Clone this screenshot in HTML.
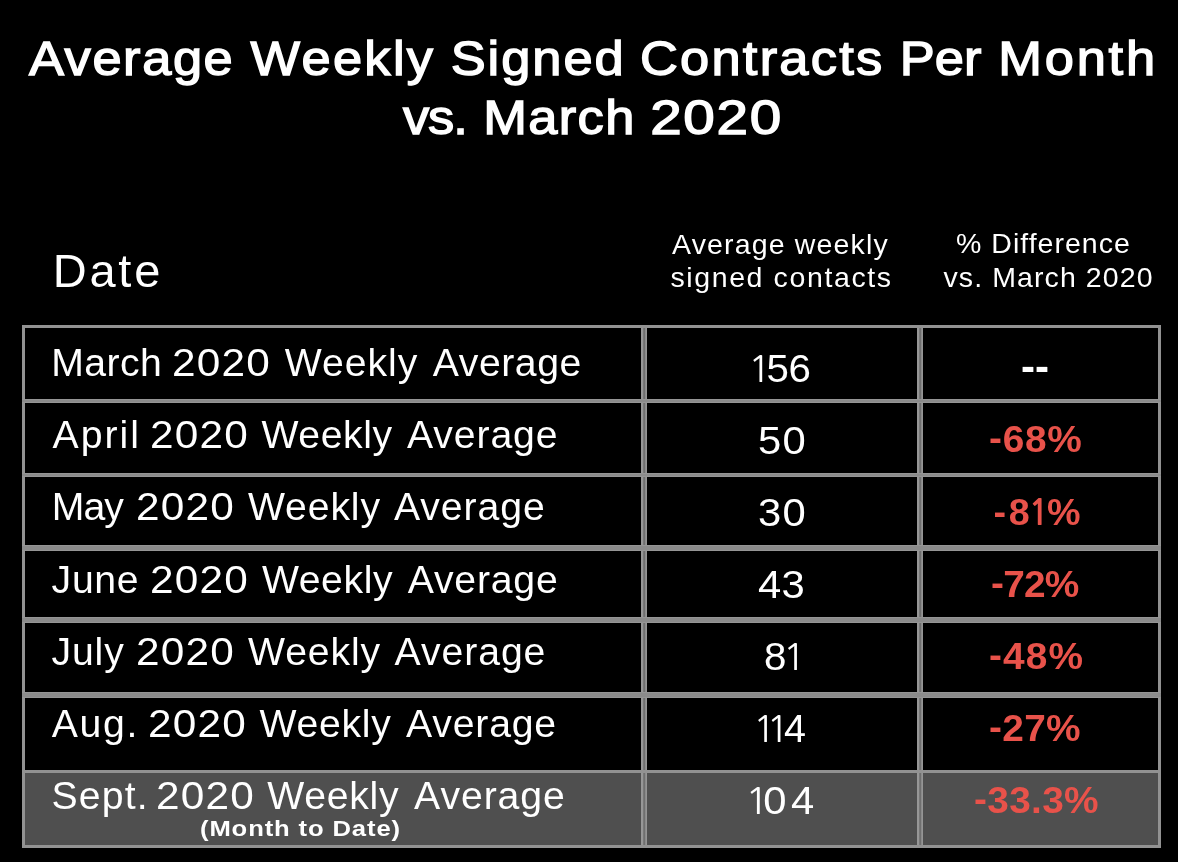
<!DOCTYPE html>
<html><head><meta charset="utf-8"><title>Average Weekly Signed Contracts Per Month vs. March 2020</title>
<style>
html,body{margin:0;padding:0;background:#000;}
body{width:1178px;height:862px;overflow:hidden;position:relative;font-family:"Liberation Sans",Arial,sans-serif;}
.t{position:absolute;white-space:nowrap;line-height:1;margin:0;}
.g{position:absolute;background:#929292;}
.h{position:absolute;background:linear-gradient(to bottom,#959595 0,#959595 1px,#8b8b8b 1px,#8b8b8b calc(100% - 1px),#959595 calc(100% - 1px));}
.v{position:absolute;background:linear-gradient(to right,#979797 0,#979797 2px,#787878 2px,#787878 3px,#6f6f6f 3px,#6f6f6f 4px,#8a8a8a 4px,#8a8a8a 5px,#959595 5px);}
</style></head><body>
<div style="position:absolute;left:25px;top:773px;width:1133px;height:72px;background:#4f4f4f"></div>
<div class="g" style="left:22px;top:325px;width:3px;height:523px"></div>
<div class="g" style="left:1158px;top:325px;width:3px;height:523px"></div>
<div class="v" style="left:641px;top:325px;width:6px;height:523px"></div>
<div class="v" style="left:917px;top:325px;width:6px;height:523px"></div>
<div class="g" style="left:22px;top:325px;width:1139px;height:3px"></div>
<div class="h" style="left:22px;top:399px;width:1139px;height:4px"></div>
<div class="h" style="left:22px;top:473px;width:1139px;height:4px"></div>
<div class="h" style="left:22px;top:545px;width:1139px;height:6px"></div>
<div class="h" style="left:22px;top:617px;width:1139px;height:6px"></div>
<div class="h" style="left:22px;top:692px;width:1139px;height:6px"></div>
<div class="g" style="left:22px;top:770px;width:1139px;height:3px"></div>
<div class="g" style="left:22px;top:845px;width:1139px;height:3px"></div>
<div class="t" id="t1" style="left:29.00px;top:34.01px;font-size:49px;font-weight:400;color:#fff;transform:scaleX(1.07);transform-origin:0 0;-webkit-text-stroke:1.4px #fff"><span id="t1_0" style="letter-spacing:1.47px">Average</span> <span id="t1_1" style="letter-spacing:2.15px;margin-left:1.57px">Weekly</span> <span id="t1_2" style="letter-spacing:1.82px;margin-left:0.71px">Signed</span> <span id="t1_3" style="letter-spacing:2.09px;margin-left:-0.26px">Contracts</span> <span id="t1_4" style="letter-spacing:0.00px;margin-left:0.75px">Per</span> <span id="t1_5" style="letter-spacing:2.58px;margin-left:2.17px">Month</span></div>
<div class="t" id="t2" style="left:403.10px;top:92.91px;font-size:49px;font-weight:400;color:#fff;transform:scaleX(1.07);transform-origin:0 0;-webkit-text-stroke:1.4px #fff"><span id="t2_0" style="letter-spacing:-1.05px">vs.</span> <span id="t2_1" style="letter-spacing:1.27px;margin-left:1.87px">March</span> <span id="t2_2" style="letter-spacing:1.48px;display:inline-block;transform:scaleX(1.080);transform-origin:0 0;margin-left:0.19px">2020</span></div>
<div class="t" id="date" style="left:52.70px;top:246.91px;font-size:47px;font-weight:400;color:#fff;letter-spacing:2.800px">Date</div>
<div class="t" id="h1" style="left:672.00px;top:229.97px;font-size:28.5px;font-weight:400;color:#fff;letter-spacing:1.154px">Average weekly</div>
<div class="t" id="h2" style="left:670.40px;top:262.67px;font-size:28.5px;font-weight:400;color:#fff;letter-spacing:1.614px">signed contacts</div>
<div class="t" id="h3" style="left:956.00px;top:229.47px;font-size:28.5px;font-weight:400;color:#fff;letter-spacing:1.018px">% Difference</div>
<div class="t" id="h4" style="left:943.50px;top:262.57px;font-size:28.5px;font-weight:400;color:#fff;letter-spacing:1.092px">vs. March 2020</div>
<div class="t" id="r1" style="left:51.30px;top:342.51px;font-size:39.2px;font-weight:400;color:#fff"><span id="r1_0" style="letter-spacing:0.40px">March</span> <span id="r1_1" style="letter-spacing:1.14px;display:inline-block;transform:scaleX(1.080);transform-origin:0 0;margin-left:-0.84px">2020</span> <span id="r1_2" style="letter-spacing:0.96px;margin-left:9.80px">Weekly</span> <span id="r1_3" style="letter-spacing:0.53px;margin-left:3.76px">Average</span></div>
<div class="t" id="r2" style="left:52.60px;top:414.71px;font-size:39.2px;font-weight:400;color:#fff"><span id="r2_0" style="letter-spacing:2.00px">April</span> <span id="r2_1" style="letter-spacing:1.09px;display:inline-block;transform:scaleX(1.080);transform-origin:0 0;margin-left:-2.36px">2020</span> <span id="r2_2" style="letter-spacing:0.58px;margin-left:9.52px">Weekly</span> <span id="r2_3" style="letter-spacing:0.88px;margin-left:3.40px">Average</span></div>
<div class="t" id="r3" style="left:51.80px;top:486.71px;font-size:39.2px;font-weight:400;color:#fff"><span id="r3_0" style="letter-spacing:-0.96px">May</span> <span id="r3_1" style="letter-spacing:1.09px;display:inline-block;transform:scaleX(1.080);transform-origin:0 0;margin-left:2.04px">2020</span> <span id="r3_2" style="letter-spacing:0.86px;margin-left:9.64px">Weekly</span> <span id="r3_3" style="letter-spacing:0.93px;margin-left:2.16px">Average</span></div>
<div class="t" id="r4" style="left:51.60px;top:559.71px;font-size:39.2px;font-weight:400;color:#fff"><span id="r4_0" style="letter-spacing:0.69px">June</span> <span id="r4_1" style="letter-spacing:1.09px;display:inline-block;transform:scaleX(1.080);transform-origin:0 0;margin-left:-0.32px">2020</span> <span id="r4_2" style="letter-spacing:0.58px;margin-left:9.52px">Weekly</span> <span id="r4_3" style="letter-spacing:0.80px;margin-left:3.68px">Average</span></div>
<div class="t" id="r5" style="left:51.50px;top:631.61px;font-size:39.2px;font-weight:400;color:#fff"><span id="r5_0" style="letter-spacing:0.85px">July</span> <span id="r5_1" style="letter-spacing:1.09px;display:inline-block;transform:scaleX(1.080);transform-origin:0 0;margin-left:0.48px">2020</span> <span id="r5_2" style="letter-spacing:0.86px;margin-left:9.64px">Weekly</span> <span id="r5_3" style="letter-spacing:0.93px;margin-left:2.76px">Average</span></div>
<div class="t" id="r6" style="left:51.80px;top:703.61px;font-size:39.2px;font-weight:400;color:#fff"><span id="r6_0" style="letter-spacing:1.65px">Aug.</span> <span id="r6_1" style="letter-spacing:1.14px;display:inline-block;transform:scaleX(1.080);transform-origin:0 0;margin-left:-2.36px">2020</span> <span id="r6_2" style="letter-spacing:0.74px;margin-left:9.20px">Weekly</span> <span id="r6_3" style="letter-spacing:0.80px;margin-left:3.60px">Average</span></div>
<div class="t" id="r7" style="left:51.40px;top:775.71px;font-size:39.2px;font-weight:400;color:#fff"><span id="r7_0" style="letter-spacing:1.20px">Sept.</span> <span id="r7_1" style="letter-spacing:1.14px;display:inline-block;transform:scaleX(1.080);transform-origin:0 0;margin-left:-4.20px">2020</span> <span id="r7_2" style="letter-spacing:0.74px;margin-left:8.88px">Weekly</span> <span id="r7_3" style="letter-spacing:0.91px;margin-left:3.88px">Average</span></div>
<div class="t" id="m" style="left:200.40px;top:818.05px;font-size:22.5px;font-weight:700;color:#fff;letter-spacing:0.752px;transform:scaleX(1.14);transform-origin:0 0">(Month to Date)</div>
<div class="t" id="n1" style="left:748.00px;top:350.03px;font-size:38px;font-weight:400;color:#fff;transform:scaleX(1.06);transform-origin:0 0"><span id="n1_0" style="letter-spacing:-4.44px;font-family:NanumGothic,'Liberation Sans',sans-serif;font-size:36.2px">1</span><span id="n1_1" style="letter-spacing:-0.44px">5</span><span id="n1_2" style="">6</span></div>
<div class="t" id="n2" style="left:758.30px;top:421.63px;font-size:38px;font-weight:400;color:#fff;letter-spacing:1.145px;transform:scaleX(1.1);transform-origin:0 0">50</div>
<div class="t" id="n3" style="left:757.60px;top:493.73px;font-size:38px;font-weight:400;color:#fff;letter-spacing:1.145px;transform:scaleX(1.1);transform-origin:0 0">30</div>
<div class="t" id="n4" style="left:758.10px;top:565.93px;font-size:38px;font-weight:400;color:#fff;letter-spacing:0.145px;transform:scaleX(1.1);transform-origin:0 0">43</div>
<div class="t" id="n5" style="left:764.40px;top:637.83px;font-size:38px;font-weight:400;color:#fff;transform:scaleX(1.06);transform-origin:0 0"><span id="n5_0" style="letter-spacing:-3.44px">8</span><span id="n5_1" style="font-family:NanumGothic,'Liberation Sans',sans-serif;font-size:36.2px">1</span></div>
<div class="t" id="n6" style="left:753.30px;top:709.83px;font-size:38px;font-weight:400;color:#fff;transform:scaleX(1.04);transform-origin:0 0"><span id="n6_0" style="letter-spacing:-9.00px;font-family:NanumGothic,'Liberation Sans',sans-serif;font-size:36.2px">1</span><span id="n6_1" style="letter-spacing:-5.00px;font-family:NanumGothic,'Liberation Sans',sans-serif;font-size:36.2px">1</span><span id="n6_2" style="">4</span></div>
<div class="t" id="n7" style="left:745.00px;top:781.83px;font-size:38px;font-weight:400;color:#fff;transform:scaleX(1.1);transform-origin:0 0"><span id="n7_0" style="letter-spacing:-5.41px;font-family:NanumGothic,'Liberation Sans',sans-serif;font-size:36.2px">1</span><span id="n7_1" style="letter-spacing:4.18px">0</span><span id="n7_2" style="">4</span></div>
<div class="t" id="p1" style="left:1021.00px;top:345.84px;font-size:42px;font-weight:700;color:#fff;letter-spacing:0.000px">--</div>
<div class="t" id="p2" style="left:989.30px;top:420.78px;font-size:37.7px;font-weight:700;color:#e8524a;letter-spacing:0.696px;transform:scaleX(1.03);transform-origin:0 0"><span style="position:relative;top:-1.5px">-</span>68%</div>
<div class="t" id="p3" style="left:993.60px;top:494.08px;font-size:37.7px;font-weight:700;color:#e8524a"><span id="p3_0" style="letter-spacing:2.50px;position:relative;top:-1.5px">-</span><span id="p3_1" style="letter-spacing:-1.50px">8</span><span id="p3_2" style="letter-spacing:-2.50px;font-family:NanumGothic,'Liberation Sans',sans-serif;font-size:35.1px">1</span><span id="p3_3" style="">%</span></div>
<div class="t" id="p4" style="left:991.00px;top:565.58px;font-size:37.7px;font-weight:700;color:#e8524a;letter-spacing:-0.775px;transform:scaleX(1.03);transform-origin:0 0"><span style="position:relative;top:-1.5px">-</span>72%</div>
<div class="t" id="p5" style="left:989.00px;top:637.78px;font-size:37.7px;font-weight:700;color:#e8524a;letter-spacing:1.088px;transform:scaleX(1.03);transform-origin:0 0"><span style="position:relative;top:-1.5px">-</span>48%</div>
<div class="t" id="p6" style="left:989.20px;top:709.68px;font-size:37.7px;font-weight:700;color:#e8524a;letter-spacing:0.294px;transform:scaleX(1.03);transform-origin:0 0"><span style="position:relative;top:-1.5px">-</span>27%</div>
<div class="t" id="p7" style="left:974.00px;top:781.58px;font-size:37.7px;font-weight:700;color:#e8524a;letter-spacing:0.300px;transform:scaleX(1.03);transform-origin:0 0"><span style="position:relative;top:-1.5px">-</span>33.3%</div>
</body></html>
